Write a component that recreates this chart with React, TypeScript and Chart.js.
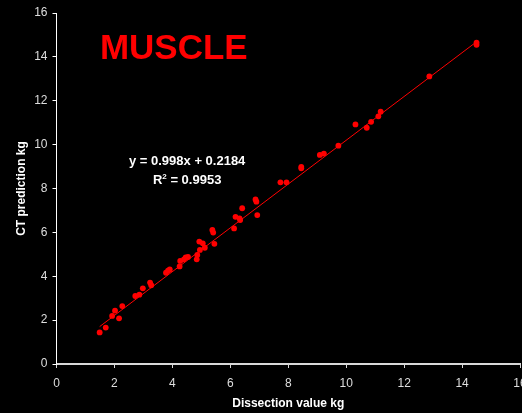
import React, { useEffect, useRef } from "react";
import { Chart, registerables } from "chart.js";

Chart.register(...registerables);

// Data
const dissectionKg = [
  1.49, 1.70, 1.92, 2.02, 2.16, 2.27, 2.72, 2.86, 2.98, 3.23, 3.27, 3.78, 3.85, 3.91,
  4.25, 4.27, 4.40, 4.46, 4.54, 4.84, 4.86, 4.95, 4.93, 5.05, 5.12, 5.38, 5.41, 5.45,
  6.13, 6.18, 6.32, 6.34, 6.41, 6.93, 6.90, 6.87, 7.73, 7.94, 8.45, 8.45, 9.09, 9.23,
  9.73, 10.32, 10.71, 10.86, 11.11, 11.19, 12.87, 14.50, 14.50,
];
const ctPredictionKg = [
  1.44, 1.66, 2.19, 2.43, 2.08, 2.64, 3.10, 3.16, 3.45, 3.71, 3.59, 4.16, 4.25, 4.31,
  4.45, 4.70, 4.77, 4.86, 4.88, 4.77, 4.97, 5.20, 5.58, 5.50, 5.30, 6.11, 5.99, 5.48,
  6.18, 6.71, 6.64, 6.56, 7.10, 6.79, 7.40, 7.50, 8.28, 8.28, 8.99, 8.92, 9.53, 9.59,
  9.95, 10.92, 10.77, 11.04, 11.29, 11.50, 13.11, 14.55, 14.65,
];
const trendSlope = 0.998;
const trendIntercept = 0.2184;
const axisMin = 0;
const axisMax = 16;
const tickStep = 2;

const chartTitle = "MUSCLE";
const equationLabel = "y = 0.998x + 0.2184";
const r2Label = "0.9953";
const xAxisTitle = "Dissection value kg";
const yAxisTitle = "CT prediction kg";

// annotation anchors in data units
const titleAnchor = { x: 4.05, y: 13.9 };
const equationAnchor = { x: 4.51, y: 9.05 };
const r2Anchor = { x: 4.51, y: 8.21 };

const FONT = "'Liberation Sans', Arial, Helvetica, sans-serif";

export default function App() {
  const canvasRef = useRef<HTMLCanvasElement | null>(null);

  useEffect(() => {
    document.body.style.margin = "0";
    document.body.style.background = "#000";
    document.body.style.overflow = "hidden";
    const canvas = canvasRef.current;
    if (!canvas) return;

    const points = dissectionKg.map((x, i) => ({ x, y: ctPredictionKg[i] }));
    const xLo = Math.min(...dissectionKg);
    const xHi = Math.max(...dissectionKg);
    const trend = [
      { x: xLo, y: trendSlope * xLo + trendIntercept },
      { x: xHi, y: trendSlope * xHi + trendIntercept },
    ];

    const annotations = {
      id: "annotations",
      afterDatasetsDraw(chart: any) {
        const { ctx, scales } = chart;
        const px = (v: number) => scales.x.getPixelForValue(v);
        const py = (v: number) => scales.y.getPixelForValue(v);
        ctx.save();
        ctx.textBaseline = "alphabetic";
        ctx.textAlign = "center";
        ctx.fillStyle = "#ff0000";
        ctx.font = `bold 35px ${FONT}`;
        ctx.fillText(chartTitle, px(titleAnchor.x), py(titleAnchor.y));

        ctx.fillStyle = "#ffffff";
        ctx.font = `bold 13px ${FONT}`;
        ctx.fillText(equationLabel, px(equationAnchor.x), py(equationAnchor.y));

        // R² = value, centered
        const a = "R";
        const b = "2";
        const c = " = " + r2Label;
        ctx.font = `bold 13px ${FONT}`;
        const wa = ctx.measureText(a).width;
        const wc = ctx.measureText(c).width;
        ctx.font = `bold 8px ${FONT}`;
        const wb = ctx.measureText(b).width;
        const total = wa + wb + wc;
        let sx = px(r2Anchor.x) - total / 2;
        const by = py(r2Anchor.y);
        ctx.textAlign = "left";
        ctx.font = `bold 13px ${FONT}`;
        ctx.fillText(a, sx, by);
        sx += wa;
        ctx.font = `bold 8px ${FONT}`;
        ctx.fillText(b, sx, by - 5);
        sx += wb;
        ctx.font = `bold 13px ${FONT}`;
        ctx.fillText(c, sx, by);
        ctx.restore();
      },
    };

    const chart = new Chart(canvas, {
      type: "scatter",
      data: {
        datasets: [
          {
            type: "scatter",
            data: points,
            backgroundColor: "#ff0000",
            borderWidth: 0,
            pointRadius: 2.9,
            pointHoverRadius: 2.9,
          },
          {
            type: "line",
            data: trend,
            borderColor: "#ff0000",
            borderWidth: 1,
            pointRadius: 0,
            fill: false,
          } as any,
        ],
      },
      options: {
        animation: false,
        responsive: false,
        devicePixelRatio: 1,
        layout: { padding: { top: 13, right: 20, left: 0, bottom: 0 } },
        plugins: { legend: { display: false }, tooltip: { enabled: false } },
        scales: {
          x: {
            type: "linear",
            min: axisMin,
            max: axisMax,
            ticks: {
              stepSize: tickStep,
              color: "#dedede",
              font: { family: FONT, size: 12 },
              padding: 8,
              maxRotation: 0,
            },
            grid: {
              drawOnChartArea: false,
              drawTicks: true,
              tickLength: 4,
              color: "#d8d8d8",
            },
            border: { color: "#d8d8d8", width: 2 },
            title: {
              display: true,
              text: xAxisTitle,
              color: "#ffffff",
              font: { family: FONT, size: 12, weight: "bold" },
              padding: { top: 0, bottom: 2 },
            },
            afterFit: (s: any) => {
              s.height = 49;
            },
          },
          y: {
            type: "linear",
            min: axisMin,
            max: axisMax,
            ticks: {
              stepSize: tickStep,
              color: "#dedede",
              font: { family: FONT, size: 12 },
              padding: 5,
            },
            grid: {
              drawOnChartArea: false,
              drawTicks: true,
              tickLength: 4,
              color: "#ffffff",
            },
            border: { color: "#ffffff", width: 1 },
            title: {
              display: true,
              text: yAxisTitle,
              color: "#ffffff",
              font: { family: FONT, size: 12, weight: "bold" },
              padding: { top: 14, bottom: 0 },
            },
            afterFit: (s: any) => {
              s.width = 56.5;
            },
          },
        },
      },
      plugins: [annotations],
    });

    return () => chart.destroy();
  }, []);

  return (
    <div style={{ width: 522, height: 413, background: "#000", overflow: "hidden" }}>
      <canvas ref={canvasRef} width={540} height={413} style={{ display: "block" }} />
    </div>
  );
}
